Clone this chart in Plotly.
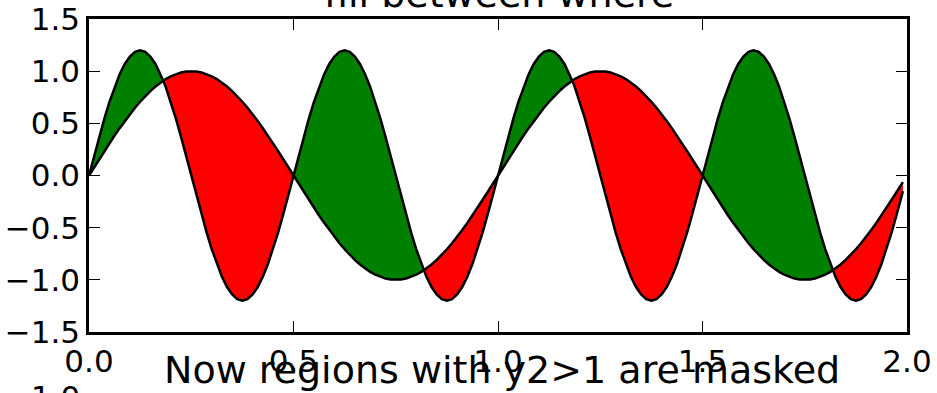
import numpy as np
import plotly.graph_objects as go

# sample positions along x
x = [
    0.0, 0.0125, 0.025, 0.0375, 0.05, 0.0625, 0.075, 0.0875, 0.1, 0.1125,
    0.125, 0.1375, 0.15, 0.1625, 0.175, 0.1875, 0.2, 0.2125, 0.225, 0.2375,
    0.25, 0.2625, 0.275, 0.2875, 0.3, 0.3125, 0.325, 0.3375, 0.35, 0.3625,
    0.375, 0.3875, 0.4, 0.4125, 0.425, 0.4375, 0.45, 0.4625, 0.475, 0.4875,
    0.5, 0.5125, 0.525, 0.5375, 0.55, 0.5625, 0.575, 0.5875, 0.6, 0.6125,
    0.625, 0.6375, 0.65, 0.6625, 0.675, 0.6875, 0.7, 0.7125, 0.725, 0.7375,
    0.75, 0.7625, 0.775, 0.7875, 0.8, 0.8125, 0.825, 0.8375, 0.85, 0.8625,
    0.875, 0.8875, 0.9, 0.9125, 0.925, 0.9375, 0.95, 0.9625, 0.975, 0.9875,
    1.0, 1.0125, 1.025, 1.0375, 1.05, 1.0625, 1.075, 1.0875, 1.1, 1.1125,
    1.125, 1.1375, 1.15, 1.1625, 1.175, 1.1875, 1.2, 1.2125, 1.225, 1.2375,
    1.25, 1.2625, 1.275, 1.2875, 1.3, 1.3125, 1.325, 1.3375, 1.35, 1.3625,
    1.375, 1.3875, 1.4, 1.4125, 1.425, 1.4375, 1.45, 1.4625, 1.475, 1.4875,
    1.5, 1.5125, 1.525, 1.5375, 1.55, 1.5625, 1.575, 1.5875, 1.6, 1.6125,
    1.625, 1.6375, 1.65, 1.6625, 1.675, 1.6875, 1.7, 1.7125, 1.725, 1.7375,
    1.75, 1.7625, 1.775, 1.7875, 1.8, 1.8125, 1.825, 1.8375, 1.85, 1.8625,
    1.875, 1.8875, 1.9, 1.9125, 1.925, 1.9375, 1.95, 1.9625, 1.975, 1.9875,
    1.99,
]

y1 = [
    0.0, 0.078, 0.156, 0.233, 0.309, 0.383, 0.454, 0.522, 0.588, 0.649,
    0.707, 0.760, 0.809, 0.853, 0.891, 0.924, 0.951, 0.972, 0.988, 0.997,
    1.0, 0.997, 0.988, 0.972, 0.951, 0.924, 0.891, 0.853, 0.809, 0.760,
    0.707, 0.649, 0.588, 0.522, 0.454, 0.383, 0.309, 0.233, 0.156, 0.078,
    0.0, -0.078, -0.156, -0.233, -0.309, -0.383, -0.454, -0.522, -0.588, -0.649,
    -0.707, -0.760, -0.809, -0.853, -0.891, -0.924, -0.951, -0.972, -0.988, -0.997,
    -1.0, -0.997, -0.988, -0.972, -0.951, -0.924, -0.891, -0.853, -0.809, -0.760,
    -0.707, -0.649, -0.588, -0.522, -0.454, -0.383, -0.309, -0.233, -0.156, -0.078,
    0.0, 0.078, 0.156, 0.233, 0.309, 0.383, 0.454, 0.522, 0.588, 0.649,
    0.707, 0.760, 0.809, 0.853, 0.891, 0.924, 0.951, 0.972, 0.988, 0.997,
    1.0, 0.997, 0.988, 0.972, 0.951, 0.924, 0.891, 0.853, 0.809, 0.760,
    0.707, 0.649, 0.588, 0.522, 0.454, 0.383, 0.309, 0.233, 0.156, 0.078,
    0.0, -0.078, -0.156, -0.233, -0.309, -0.383, -0.454, -0.522, -0.588, -0.649,
    -0.707, -0.760, -0.809, -0.853, -0.891, -0.924, -0.951, -0.972, -0.988, -0.997,
    -1.0, -0.997, -0.988, -0.972, -0.951, -0.924, -0.891, -0.853, -0.809, -0.760,
    -0.707, -0.649, -0.588, -0.522, -0.454, -0.383, -0.309, -0.233, -0.156, -0.078,
    -0.063,
]

y2 = [
    0.0, 0.188, 0.371, 0.545, 0.705, 0.849, 0.971, 1.069, 1.141, 1.185,
    1.2, 1.185, 1.141, 1.069, 0.971, 0.849, 0.705, 0.545, 0.371, 0.188,
    0.0, -0.188, -0.371, -0.545, -0.705, -0.849, -0.971, -1.069, -1.141, -1.185,
    -1.2, -1.185, -1.141, -1.069, -0.971, -0.849, -0.705, -0.545, -0.371, -0.188,
    0.0, 0.188, 0.371, 0.545, 0.705, 0.849, 0.971, 1.069, 1.141, 1.185,
    1.2, 1.185, 1.141, 1.069, 0.971, 0.849, 0.705, 0.545, 0.371, 0.188,
    0.0, -0.188, -0.371, -0.545, -0.705, -0.849, -0.971, -1.069, -1.141, -1.185,
    -1.2, -1.185, -1.141, -1.069, -0.971, -0.849, -0.705, -0.545, -0.371, -0.188,
    0.0, 0.188, 0.371, 0.545, 0.705, 0.849, 0.971, 1.069, 1.141, 1.185,
    1.2, 1.185, 1.141, 1.069, 0.971, 0.849, 0.705, 0.545, 0.371, 0.188,
    0.0, -0.188, -0.371, -0.545, -0.705, -0.849, -0.971, -1.069, -1.141, -1.185,
    -1.2, -1.185, -1.141, -1.069, -0.971, -0.849, -0.705, -0.545, -0.371, -0.188,
    0.0, 0.188, 0.371, 0.545, 0.705, 0.849, 0.971, 1.069, 1.141, 1.185,
    1.2, 1.185, 1.141, 1.069, 0.971, 0.849, 0.705, 0.545, 0.371, 0.188,
    0.0, -0.188, -0.371, -0.545, -0.705, -0.849, -0.971, -1.069, -1.141, -1.185,
    -1.2, -1.185, -1.141, -1.069, -0.971, -0.849, -0.705, -0.545, -0.371, -0.188,
    -0.150,
]

# points where the two curves cross (off the sample grid)
cross_x = [0.1816, 0.8184, 1.1816, 1.8184]
cross_y = [0.909, -0.909, 0.909, -0.909]

tick_x = [0, 0.5, 1.0, 1.5, 2.0]
tick_x_text = ["0.0", "0.5", "1.0", "1.5", "2.0"]
tick_y = [-1.5, -1.0, -0.5, 0.0, 0.5, 1.0, 1.5]
tick_y_text = ["\u22121.5", "\u22121.0", "\u22120.5", "0.0", "0.5", "1.0", "1.5"]

# merge crossings into the samples so the fills switch colour exactly there
xs = np.array(x + cross_x)
order = np.argsort(xs)
xf = xs[order]
y1f = np.array(y1 + cross_y)[order]
y2f = np.array(y2 + cross_y)[order]
upper = np.maximum(y1f, y2f)
lower = np.minimum(y1f, y2f)

fig = go.Figure()
# green where y2 >= y1
fig.add_trace(go.Scatter(x=xf, y=y1f, mode="lines", line=dict(width=0), hoverinfo="skip"))
fig.add_trace(go.Scatter(x=xf, y=upper, mode="lines", line=dict(width=0),
                         fill="tonexty", fillcolor="#008000", hoverinfo="skip"))
# red where y2 <= y1
fig.add_trace(go.Scatter(x=xf, y=y1f, mode="lines", line=dict(width=0), hoverinfo="skip"))
fig.add_trace(go.Scatter(x=xf, y=lower, mode="lines", line=dict(width=0),
                         fill="tonexty", fillcolor="#ff0000", hoverinfo="skip"))
# black outlines
fig.add_trace(go.Scatter(x=xf, y=y1f, mode="lines", line=dict(color="black", width=2.5)))
fig.add_trace(go.Scatter(x=xf, y=y2f, mode="lines", line=dict(color="black", width=2.5)))

axis_style = dict(
    showgrid=False, zeroline=False, showline=True, linecolor="black", linewidth=2.5,
    mirror="ticks", ticks="inside", ticklen=11, tickwidth=1, tickcolor="black",
    tickfont=dict(family="DejaVu Sans", size=31, color="black"), automargin=False,
)
fig.update_xaxes(range=[0, 2], tickvals=tick_x, ticktext=tick_x_text, **axis_style)
fig.update_yaxes(range=[-1.5, 1.5], tickvals=tick_y, ticktext=tick_y_text, **axis_style)

title_font = dict(family="DejaVu Sans", size=38, color="black")
fig.update_layout(
    width=937, height=393, autosize=False,
    margin=dict(l=89, r=30, t=19, b=61),
    paper_bgcolor="white", plot_bgcolor="white",
    showlegend=False,
    annotations=[
        dict(text="fill between where", xref="paper", yref="paper", x=0.5012, y=1.0808,
             xanchor="center", yanchor="middle", showarrow=False, font=title_font),
        dict(text="Now regions with y2>1 are masked", xref="paper", yref="paper",
             x=0.5055, y=-0.1204, xanchor="center", yanchor="middle", showarrow=False,
             font=title_font),
        dict(text="1.0", xref="paper", yref="paper", x=-0.0086, y=-0.2067,
             xanchor="right", yanchor="middle", showarrow=False,
             font=dict(family="DejaVu Sans", size=31, color="black")),
    ],
)

fig.write_html("out.html", config={"displayModeBar": False},
               post_script="document.body.style.margin='0';")
